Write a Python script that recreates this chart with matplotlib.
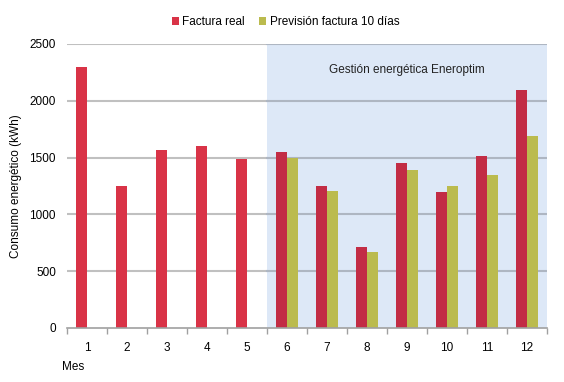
import numpy as np
import matplotlib
matplotlib.use("Agg")
import matplotlib.pyplot as plt

plt.rcParams['font.family'] = ['Liberation Sans', 'DejaVu Sans']

# datos
meses = [1, 2, 3, 4, 5, 6, 7, 8, 9, 10, 11, 12]
factura_real = [2300, 1250, 1570, 1600, 1490, 1550, 1250, 710, 1450, 1195, 1510, 2095]
prevision = [0, 0, 0, 0, 0, 1500, 1210, 670, 1390, 1250, 1350, 1690]
inicio_gestion = 6

fig = plt.figure(figsize=(5.64, 3.82), dpi=100)
ax = fig.add_axes([0.1188, 0.1414, 0.851, 0.7435])

x = np.array(meses)
w = 0.28
rojo = ['#d93347' if m < inicio_gestion else '#c22c45' for m in meses]

ax.axvspan(inicio_gestion - 0.5, 12.5, ymin=0, ymax=1, color='#dde8f7', zorder=0, lw=0)
for v in range(500, 2501, 500):
    ax.plot([0.5, inicio_gestion - 0.5], [v, v], color='#c0c0c0', lw=1.5, zorder=0.5)
    ax.plot([inicio_gestion - 0.5, 12.5], [v, v], color='#aeb6c2', lw=1.5, zorder=0.5)

ax.bar(x - w / 2, factura_real, width=w, color=rojo, zorder=2, label='Factura real')
ax.bar(x + w / 2, prevision, width=w, color='#bbbb4e', zorder=2, label='Previsión factura 10 días')

ax.text(9.0, 2270, 'Gestión energética Eneroptim', ha='center', va='center', fontsize=8.5, color='#222222')

ax.set_xlim(0.5, 12.5)
ax.set_ylim(0, 2500)
ax.set_xticks(meses)
ax.set_xticks(np.arange(0.5, 12.6, 1), minor=True)
ax.set_yticks(range(0, 2501, 500))
ax.tick_params(axis='x', which='major', length=0, pad=10, labelsize=8.5)
ax.tick_params(axis='x', which='minor', length=4, color='#a0a0a0', width=1)
ax.tick_params(axis='y', length=0, pad=8, labelsize=8.5)
for s in ['top', 'right', 'left']:
    ax.spines[s].set_visible(False)
ax.spines['bottom'].set_color('#a0a0a0')
ax.spines['bottom'].set_linewidth(1.2)

ax.set_ylabel('Consumo energético (kWh)', fontsize=8.5, labelpad=5)
fig.text(0.110, 0.04, 'Mes', fontsize=8.5, ha='left', va='center')

ax.legend(loc='upper center', bbox_to_anchor=(0.455, 1.135), ncol=2, frameon=False,
          fontsize=8.5, handlelength=0.6, handleheight=0.6, handletextpad=0.3, columnspacing=1.2)

fig.savefig('out.png', dpi=100)
